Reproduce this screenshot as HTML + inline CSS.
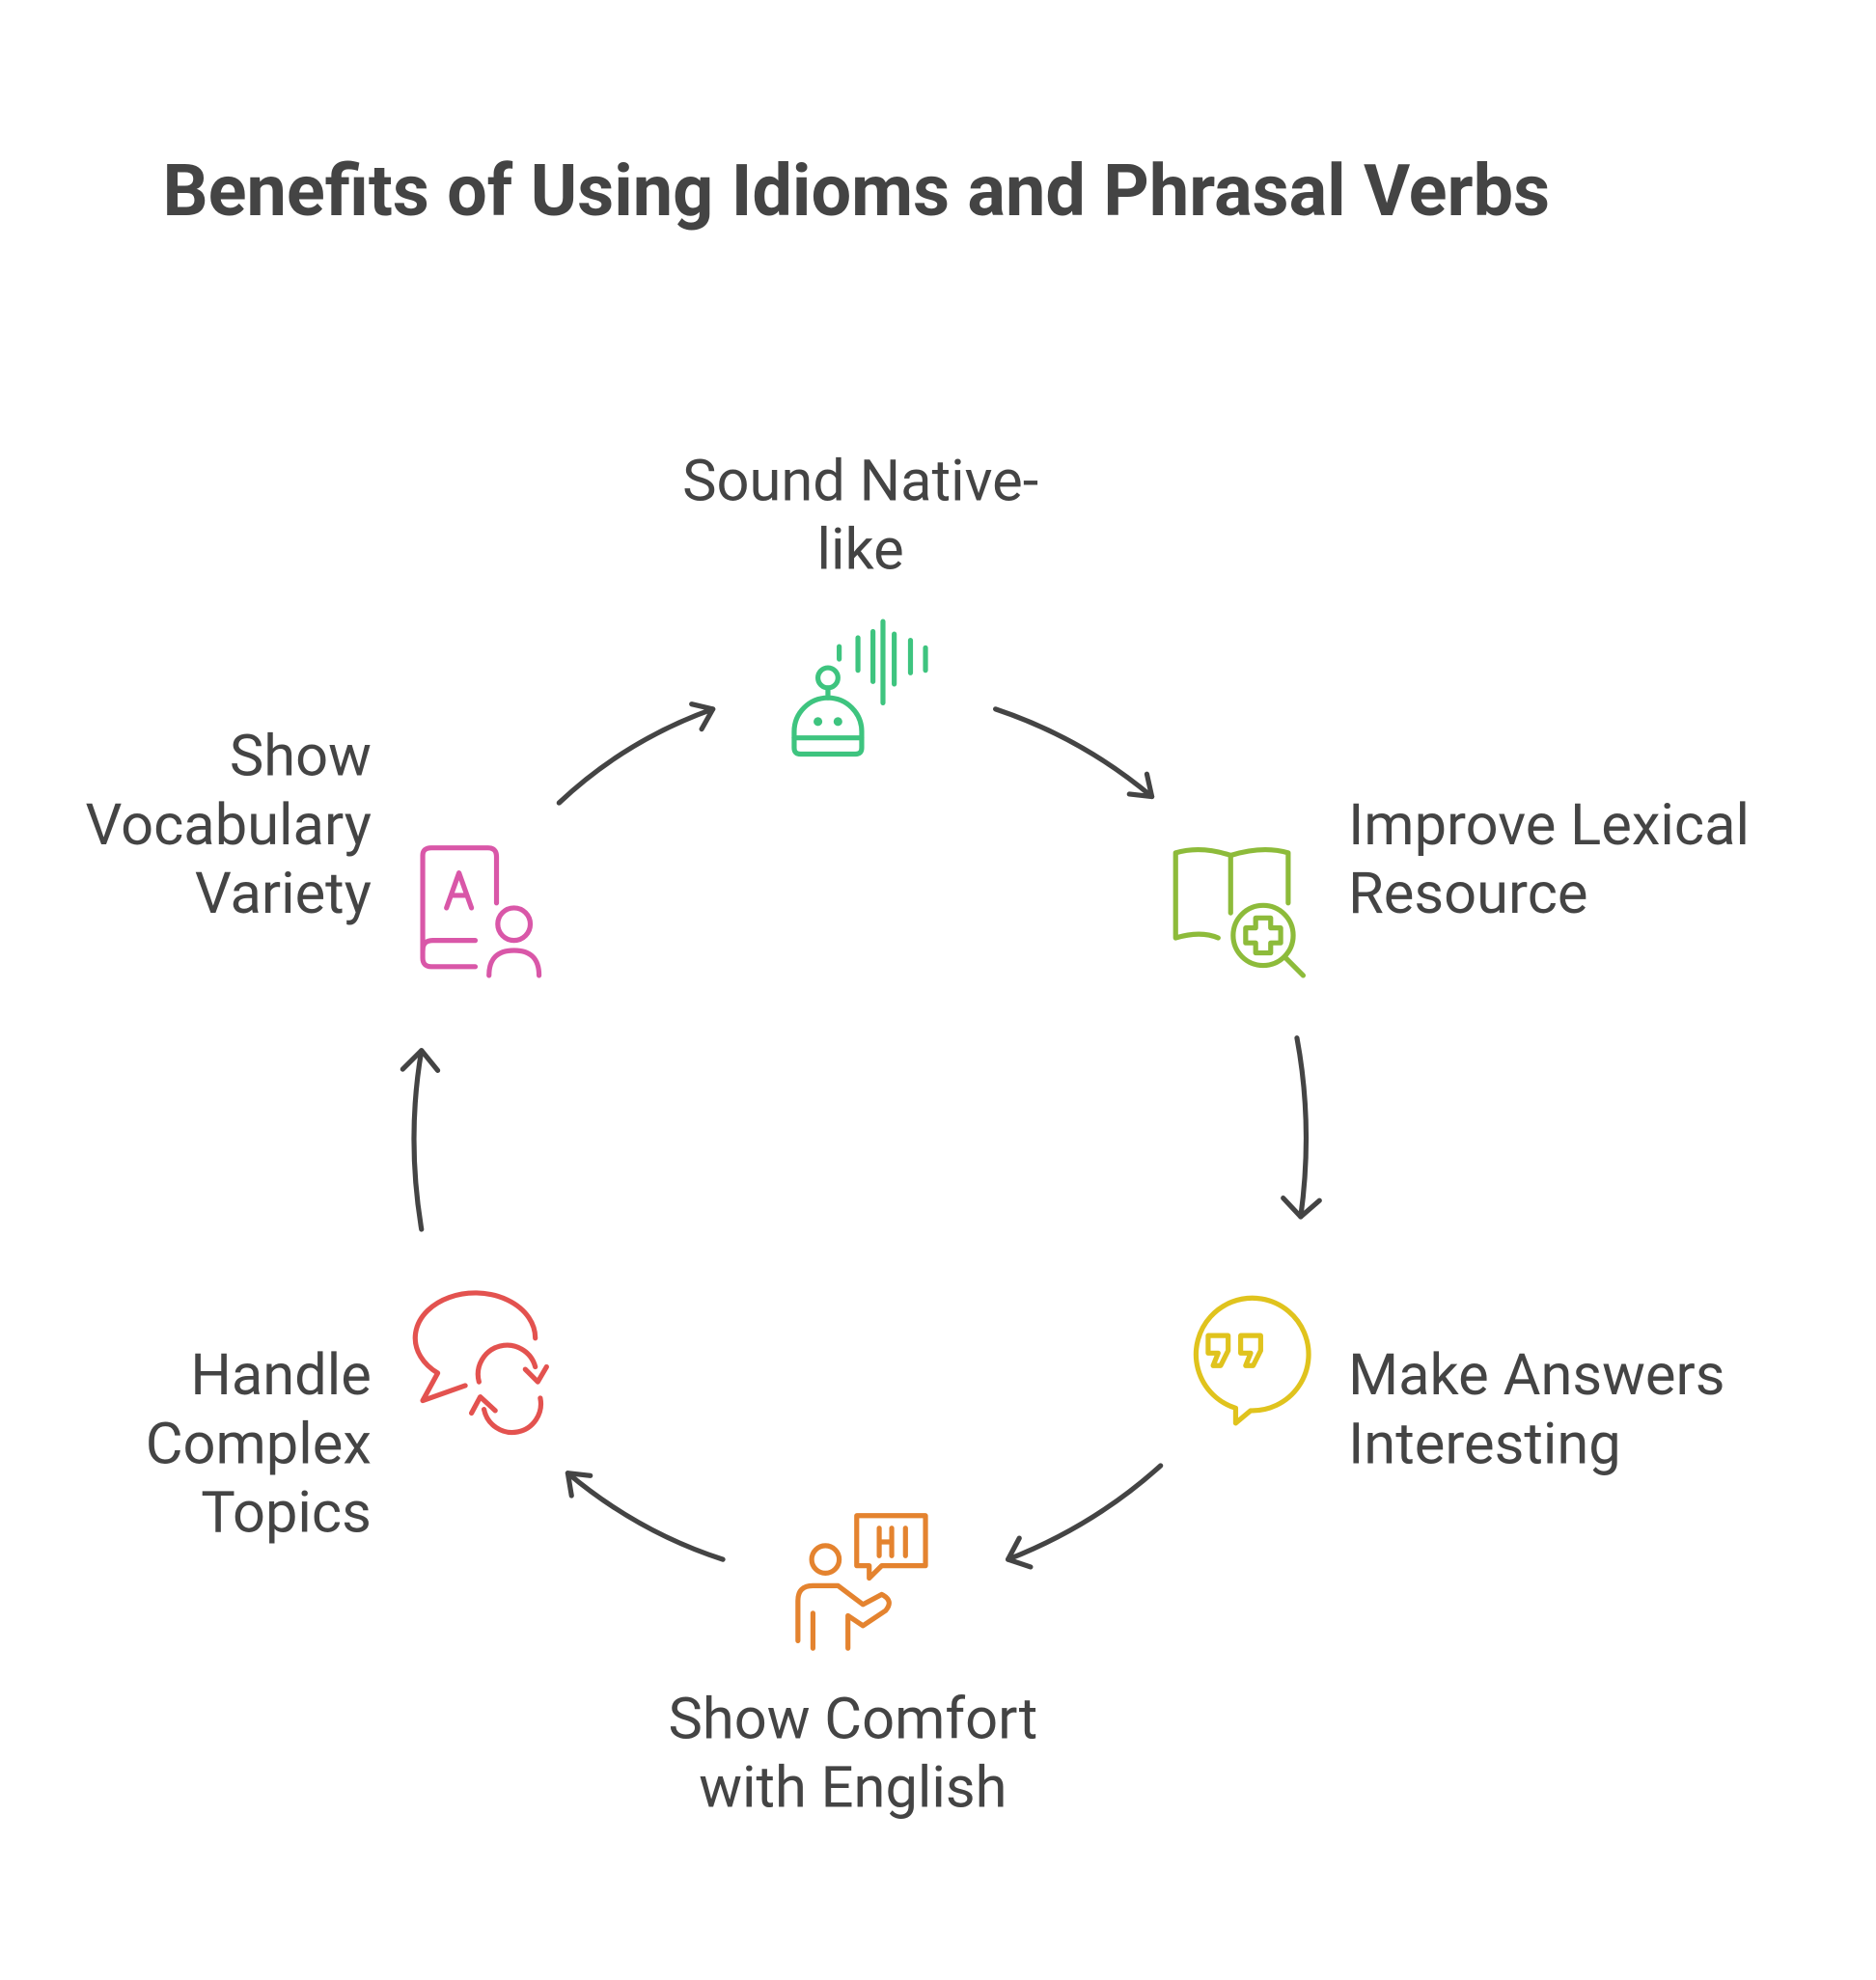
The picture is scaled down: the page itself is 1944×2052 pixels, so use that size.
<!DOCTYPE html>
<html><head><meta charset="utf-8"><style>
html,body{margin:0;padding:0;background:#fff}
svg{display:block}
text{font-family:"Roboto","Liberation Sans",sans-serif;fill:#444}
</style></head><body>
<svg width="1944" height="2052" viewBox="0 0 1500 1583.3" xmlns="http://www.w3.org/2000/svg">
<text x="130" y="172" font-size="57" font-weight="bold" fill="#444">Benefits of Using Idioms and Phrasal Verbs</text>
<g font-size="46">
<text x="688" y="400" text-anchor="middle">Sound Native-</text>
<text x="688" y="455" text-anchor="middle">like</text>
<text x="1078" y="675">Improve Lexical</text>
<text x="1078" y="730">Resource</text>
<text x="1078" y="1115">Make Answers</text>
<text x="1078" y="1170">Interesting</text>
<text x="682" y="1390" text-anchor="middle">Show Comfort</text>
<text x="682" y="1445" text-anchor="middle">with English</text>
<text x="297" y="1115" text-anchor="end">Handle</text>
<text x="297" y="1170" text-anchor="end">Complex</text>
<text x="297" y="1225" text-anchor="end">Topics</text>
<text x="297" y="620" text-anchor="end">Show</text>
<text x="297" y="675" text-anchor="end">Vocabulary</text>
<text x="297" y="730" text-anchor="end">Variety</text>
</g>
<g fill="none" stroke="#444" stroke-width="4" stroke-linecap="round" stroke-linejoin="round">
<path d="M447 642 Q500 592 570 567"/><path d="M553 563 L570 567 L561 583"/>
<path d="M796 567 Q865 590 921 637"/><path d="M917 619 L921 637 L903 635"/>
<path d="M1037 830 Q1050 900 1040 973"/><path d="M1026 958 L1040 973 L1055 960"/>
<path d="M928 1172 Q875 1220 806 1247"/><path d="M815 1230 L806 1247 L824 1253"/>
<path d="M578 1247 Q510 1225 454 1178"/><path d="M457 1196 L454 1178 L472 1180"/>
<path d="M337 983 Q325 910 337 840"/><path d="M322 855 L337 840 L350 856"/>
</g>
<g fill="none" stroke="#3ec47f" stroke-width="4" stroke-linecap="round">
<circle cx="662" cy="542" r="8"/><path d="M662 550 V558"/>
<path d="M635 598 V585 A27 27 0 0 1 689 585 V598 Q689 603 684 603 H640 Q635 603 635 598 Z"/>
<path d="M635 590 H689"/>
<path d="M671 517 v10 M686 510 v26 M698 505 v40 M706 497 v65 M715 507 v40 M728 512 v26 M740 518 v18"/>
</g>
<circle cx="654" cy="577" r="3.5" fill="#3ec47f"/><circle cx="670" cy="577" r="3.5" fill="#3ec47f"/>
<g fill="none" stroke="#8dbb3a" stroke-width="4" stroke-linecap="round" stroke-linejoin="round">
<path d="M984 684 Q960 676 940 682 V750 Q960 744 974 750"/>
<path d="M984 684 Q1010 676 1030 682 V722"/>
<path d="M984 684 V730"/>
<circle cx="1010" cy="748" r="24"/><path d="M1028 766 L1042 780"/>
<path d="M1004 734 h12 v8 h8 v12 h-8 v8 h-12 v-8 h-8 v-12 h8 z"/>
</g>
<g fill="none" stroke="#e0c31d" stroke-width="4" stroke-linejoin="round">
<path d="M988 1138 V1126 A45 45 0 1 1 1000 1128 Z"/>
<path d="M966 1068 h16 v12 l-6 12 h-6 l4 -10 h-8 z M992 1068 h16 v12 l-6 12 h-6 l4 -10 h-8 z"/>
</g>
<g fill="none" stroke="#e4832f" stroke-width="4" stroke-linecap="round" stroke-linejoin="round">
<circle cx="660" cy="1247" r="11"/>
<path d="M650 1318 V1290 M638 1312 V1280 Q638 1268 650 1268 H670 L690 1283 L705 1275 Q715 1280 708 1288 L690 1300 L678 1292 V1318"/>
<path d="M685 1212 H740 V1252 H705 L695 1262 V1252 H685 Z"/>
<path d="M703 1222 v22 M713 1222 v22 M703 1233 h10 M724 1222 v22"/>
</g>
<g fill="none" stroke="#e3524f" stroke-width="4" stroke-linecap="round" stroke-linejoin="round">
<path d="M428 1070 A48 36 0 1 0 350 1098 L338 1120 L372 1108"/>
<path d="M383 1105 A22 22 0 0 1 428 1093 M420 1095 L430 1105 L437 1093"/>
<path d="M432 1118 A22 22 0 0 1 387 1127 M396 1128 L384 1117 L377 1130"/>
</g>
<g fill="none" stroke="#d957a8" stroke-width="4" stroke-linecap="round" stroke-linejoin="round">
<path d="M380 773 H345 Q338 773 338 766 V684 Q338 678 345 678 H390 Q397 678 397 685 V722"/>
<path d="M338 760 Q338 752 346 752 H380"/>
<path d="M357 726 L367 698 L377 726 M361 716 H373"/>
<circle cx="411" cy="739" r="13"/>
<path d="M391 780 Q391 760 411 760 Q431 760 431 780"/>
</g>
</svg>
</body></html>
